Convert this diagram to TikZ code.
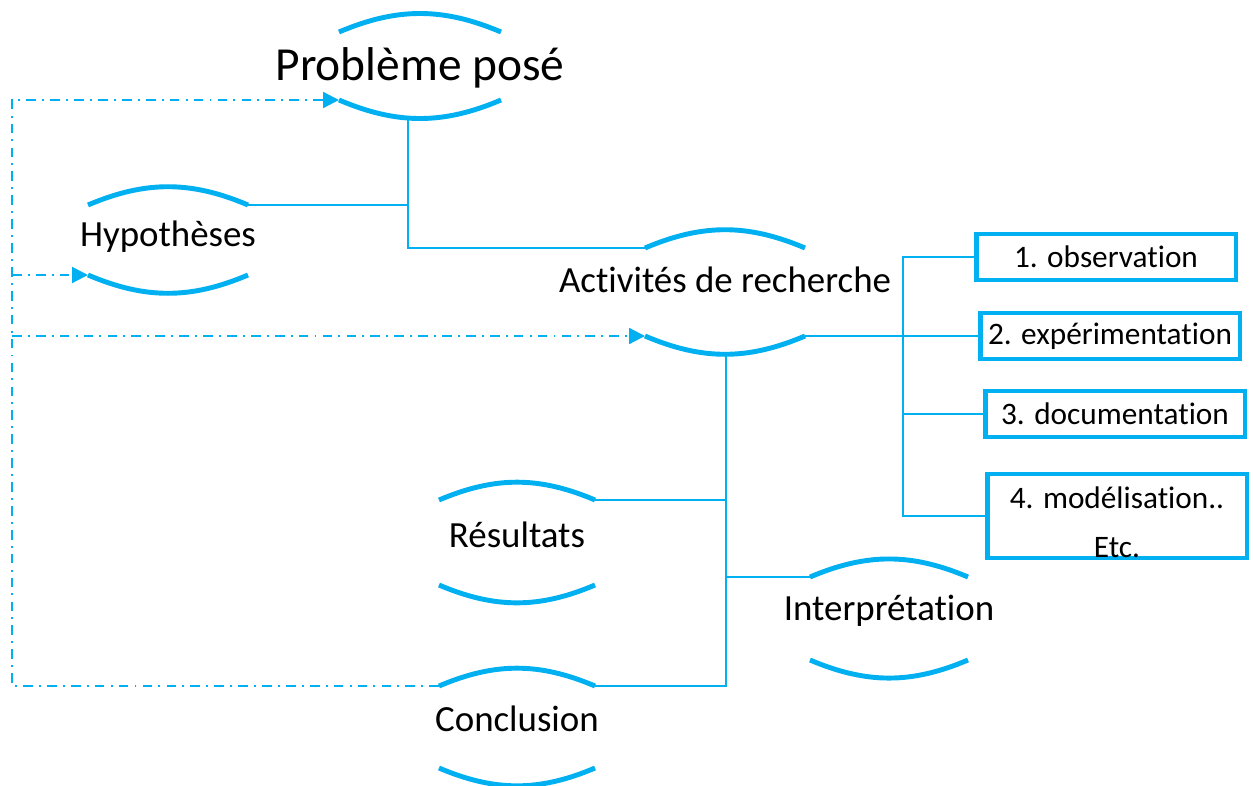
\documentclass[tikz,border=0pt]{standalone}
\usepackage{fontspec}
\setmainfont{Carlito}[RawFeature={-liga;-calt;-clig;-rlig;-dlig;-ccmp}]
\usetikzlibrary{arrows.meta}
\definecolor{skyline}{HTML}{00B0F0}

\tikzset{
  bubble/.style={inner sep=0pt, font=\fontsize{21}{25}\selectfont},
  arcline/.style={draw=skyline, line width=2.8pt},
  link/.style={draw=skyline, line width=1.2pt},
  backlink/.style={draw=skyline, line width=1.2pt, dash pattern=on 5.5pt off 3.5pt on 1.1pt off 3.5pt, -{Triangle[length=9pt,width=9pt]}},
  task/.style={draw=skyline, line width=2.8pt, minimum width=5.2cm, minimum height=0.92cm, inner sep=2pt, font=\fontsize{17.8}{28}\selectfont}
}

\begin{document}
\begin{tikzpicture}[x=0.02cm, y=-0.02cm]
  \useasboundingbox (0,0) rectangle (1253,785);

  % bubbles
  \node[bubble, font=\fontsize{27}{32}\selectfont] (prob) at (420,68) {Problème posé};
  \node[bubble] (hyp)    at (168,237) {Hypothèses};
  \node[bubble] (act)    at (725,280) {Activités de recherche};
  \node[bubble] (res)    at (517,535) {Résultats};
  \node[bubble] (interp) at (889,611) {Interprétation};
  \node[bubble] (concl)  at (517,719) {Conclusion};

  % arcs over and under each bubble
  \foreach \n/\w/\t/\b in {prob/81/36/32, hyp/80/32/38, act/80/32/56, res/78/35/50, interp/79/34/49, concl/78/33/49}{
    \coordinate (\n-nw) at ([shift={(-\w,-\t)}]\n.center);
    \coordinate (\n-ne) at ([shift={(\w,-\t)}]\n.center);
    \coordinate (\n-sw) at ([shift={(-\w,\b)}]\n.center);
    \coordinate (\n-se) at ([shift={(\w,\b)}]\n.center);
    \draw[arcline] (\n-nw) to[bend left=23] (\n-ne);
    \draw[arcline] (\n-sw) to[bend right=23] (\n-se);
  }

  % research activities
  \node[task] (obs) at (1106,257) {1. observation};
  \node[task] (exp) at (1110,336) {2. expérimentation};
  \node[task] (doc) at (1115,414) {3. documentation};
  \node[task, minimum height=1.68cm] (mod) at (1117,516)
    {\raisebox{-0.3cm}[0.5cm][0.5cm]{\begin{tabular}{@{}c@{}}4. modélisation..\\Etc.\end{tabular}}};

  % tree links
  \coordinate (pb) at (408,120);
  \draw[link] (pb) |- (act-nw);
  \draw[link] (hyp-ne) -- (hyp-ne -| pb);

  \coordinate (actfoot) at (726,352);
  \draw[link] (actfoot) |- (concl-ne);
  \draw[link] (res-ne) -- (res-ne -| actfoot);
  \draw[link] (interp-nw) -- (interp-nw -| actfoot);

  \coordinate (fork) at (903,300);
  \draw[link] (obs.west) -- (obs.west -| fork) |- (mod.west);
  \draw[link] (act-se) -- (exp.west);
  \draw[link] (doc.west -| fork) -- (doc.west);

  % feedback
  \coordinate (rail) at (12,686);
  \draw[backlink] (concl-nw) -- (rail) |- (prob-sw);
  \draw[backlink] (rail |- hyp-sw) -- (hyp-sw);
  \draw[backlink] (rail |- act-sw) -- (act-sw);
\end{tikzpicture}
\end{document}
